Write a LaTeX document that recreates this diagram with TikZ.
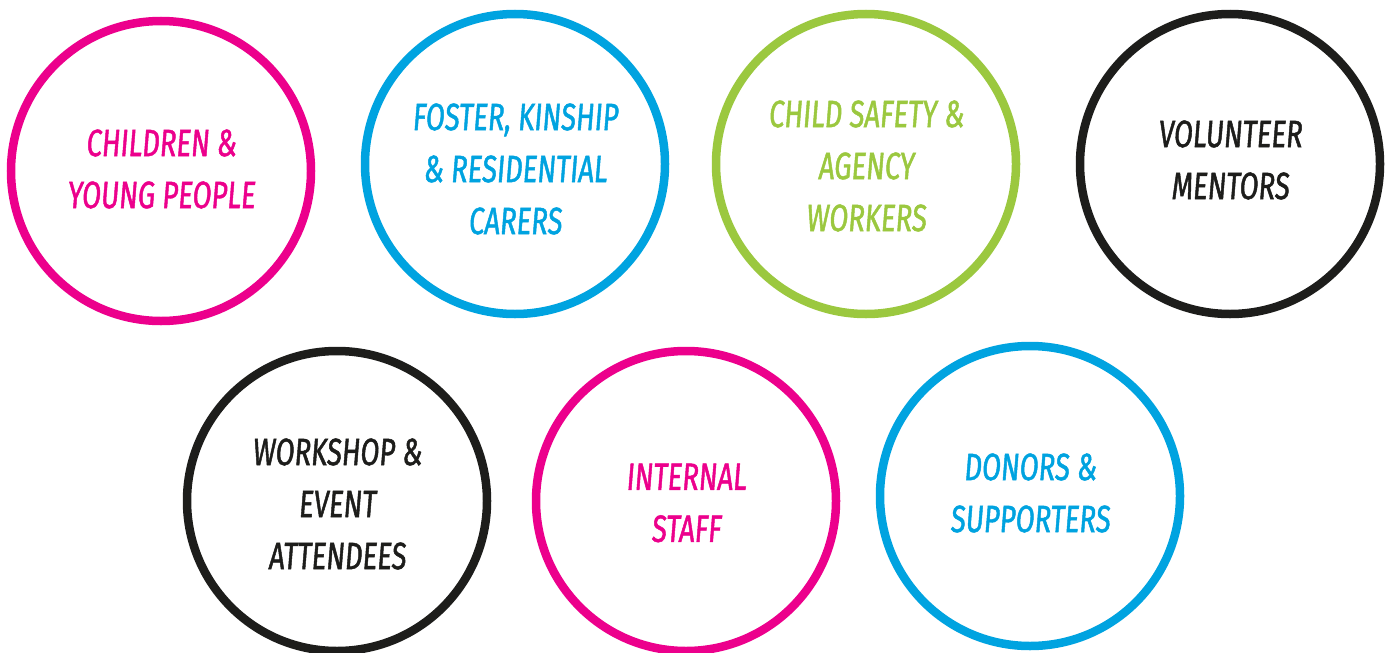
\documentclass[tikz,border=0pt]{standalone}
\usepackage{fontspec}
\newfontfamily\handfont[FakeStretch=0.72,FakeSlant=0.08,FakeBold=1.2]{Fira Sans}
\definecolor{cpink}{HTML}{EC008C}
\definecolor{cblue}{HTML}{00A3E0}
\definecolor{cgreen}{HTML}{9BC83F}
\definecolor{cblack}{HTML}{1D1D1B}
\begin{document}
\begin{tikzpicture}[x=1pt,y=-1pt,
  ring/.style={circle,draw=#1,line width=8.5pt,minimum size=300pt,inner sep=0pt},
  label text/.style={text=#1,align=center,inner sep=0pt,font=\handfont\fontsize{38}{52}\selectfont}]
\useasboundingbox[fill=white] (0,0) rectangle (1389,653);
\node[ring=cpink]  (c1) at (161,171) {};
\node[ring=cblue]  (c2) at (515,164) {};
\node[ring=cgreen] (c3) at (866,164) {};
\node[ring=cblack] (c4) at (1230,164) {};
\node[ring=cblack] (c5) at (337,501) {};
\node[ring=cpink]  (c6) at (686,501) {};
\node[ring=cblue]  (c7) at (1030,496) {};
\node[label text=cpink]  (t1) at ([yshift=2pt]c1.center) {CHILDREN \&\\YOUNG PEOPLE};
\node[label text=cblue]  (t2) at ([yshift=-5pt]c2.center) {FOSTER, KINSHIP\\\& RESIDENTIAL\\CARERS};
\node[label text=cgreen] (t3) at ([yshift=-2pt]c3.center) {CHILD SAFETY \&\\AGENCY\\WORKERS};
\node[label text=cblack] (t4) at ([yshift=4pt]c4.center) {VOLUNTEER\\MENTORS};
\node[label text=cblack] (t5) at ([yshift=-3pt]c5.center) {WORKSHOP \&\\EVENT\\ATTENDEES};
\node[label text=cpink]  (t6) at ([yshift=-2pt]c6.center) {INTERNAL\\STAFF};
\node[label text=cblue]  (t7) at ([yshift=3pt]c7.center) {DONORS \&\\SUPPORTERS};
\end{tikzpicture}
\end{document}
